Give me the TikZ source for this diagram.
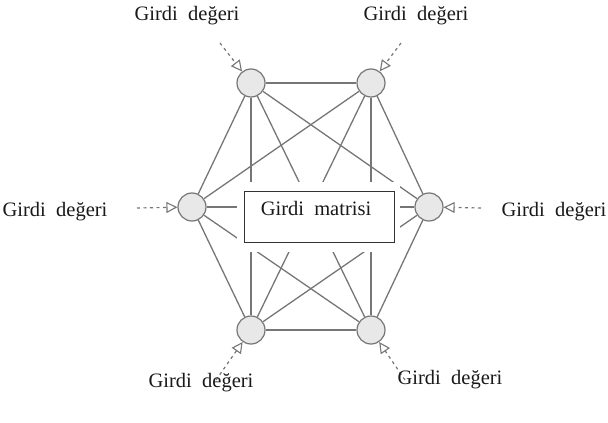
\documentclass[tikz,border=0pt]{standalone}
\usepackage{fontspec}
\setmainfont{Liberation Serif}
\usetikzlibrary{arrows.meta,backgrounds}
\definecolor{edgegray}{RGB}{118,118,118}
\definecolor{nodefill}{RGB}{232,232,232}
\tikzset{
  neuron/.style={circle, draw=edgegray, fill=nodefill, line width=1.2pt, minimum size=28pt, inner sep=0pt},
  link/.style={draw=edgegray, line width=1.3pt},
  inarrow/.style={draw=edgegray, line width=1.2pt, dash pattern=on 3pt off 3.5pt,
    -{Triangle[open, length=11pt, width=11pt, line width=1.1pt, fill=white]}},
  lbl/.style={font=\fontsize{20.5}{22}\selectfont, inner sep=0pt, text=black!90},
}
\newcommand{\gd}{Girdi\hspace{0.25em} değeri}
\begin{document}
\begin{tikzpicture}[x=1pt,y=-1pt]
\useasboundingbox (0,0) rectangle (608,423);
% neurons
\node[neuron] (n1) at (251,83) {};
\node[neuron] (n2) at (371,83) {};
\node[neuron] (n3) at (192,207) {};
\node[neuron] (n4) at (429,207) {};
\node[neuron] (n5) at (251,330) {};
\node[neuron] (n6) at (371,330) {};
% complete graph behind the neurons
\begin{scope}[on background layer]
\foreach \a/\b in {n1/n2,n1/n3,n1/n4,n1/n5,n1/n6,n2/n3,n2/n4,n2/n5,n2/n6,n3/n4,n3/n5,n3/n6,n4/n5,n4/n6,n5/n6}
  \draw[link] (\a) -- (\b);
\end{scope}
% white cover and box
\fill[white] (237,182) rectangle (400,252);
\node[draw={black!80}, line width=1.4pt, minimum width=150pt, minimum height=51pt, inner sep=0pt, anchor=north west] (box) at (244,191) {};
\node[lbl] (boxtext) at (316,208) {Girdi\hspace{0.25em} matrisi};
% inputs
\coordinate (s1) at (220,43);
\coordinate (s2) at (401,43);
\coordinate (s3) at (137,208);
\coordinate (s4) at (481,208);
\coordinate (s5) at (216,380);
\coordinate (s6) at (405,380);
\draw[inarrow] (s1) -- (n1);
\draw[inarrow] (s2) -- (n2);
\draw[inarrow] (s3) -- (n3);
\draw[inarrow] (s4) -- (n4);
\draw[inarrow] (s5) -- (n5);
\draw[inarrow] (s6) -- (n6);
% labels
\node[lbl] (l1) at (187,16) {\gd};
\node[lbl] (l2) at (416,16) {\gd};
\node[lbl] (l3) at (55,212) {\gd};
\node[lbl] (l4) at (554,212) {\gd};
\node[lbl] (l5) at (201,383) {\gd};
\node[lbl] (l6) at (450,380) {\gd};
\end{tikzpicture}
\end{document}
